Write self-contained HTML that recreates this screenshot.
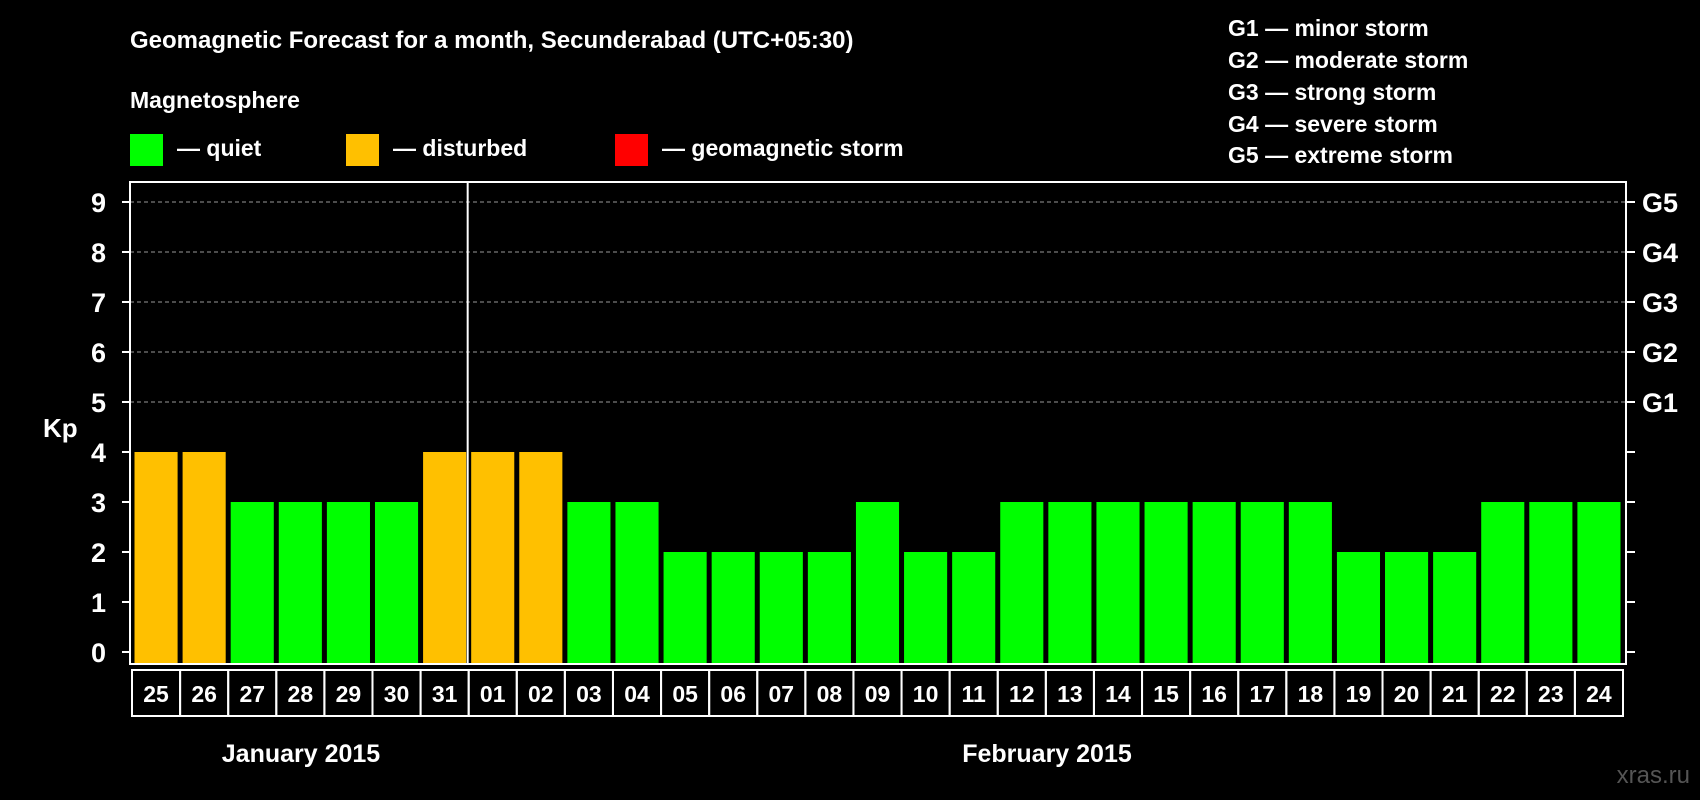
<!DOCTYPE html>
<html><head><meta charset="utf-8"><style>
html,body{margin:0;padding:0;background:#000;}
svg{display:block;font-family:"Liberation Sans",Arial,sans-serif;font-weight:bold;}
</style></head><body>
<svg id="c" width="1700" height="800" viewBox="0 0 1700 800">
<rect width="1700" height="800" fill="#000"/>
<text x="130" y="48" fill="#fff" font-size="24">Geomagnetic Forecast for a month, Secunderabad (UTC+05:30)</text>
<text x="130" y="108" fill="#fff" font-size="23">Magnetosphere</text>
<g><rect x="130" y="134" width="33" height="32" fill="#00ff00"/><text x="177" y="156" fill="#fff" font-size="23">— quiet</text></g>
<g><rect x="346" y="134" width="33" height="32" fill="#ffc000"/><text x="393" y="156" fill="#fff" font-size="23">— disturbed</text></g>
<g><rect x="615" y="134" width="33" height="32" fill="#ff0000"/><text x="662" y="156" fill="#fff" font-size="23">— geomagnetic storm</text></g>
<g fill="#fff" font-size="23">
<text x="1228" y="36">G1 — minor storm</text>
<text x="1228" y="68">G2 — moderate storm</text>
<text x="1228" y="100">G3 — strong storm</text>
<text x="1228" y="132">G4 — severe storm</text>
<text x="1228" y="163">G5 — extreme storm</text>
</g>
<text x="43" y="437" fill="#fff" font-size="26">Kp</text>
<text x="301" y="762" fill="#fff" font-size="25" text-anchor="middle">January 2015</text>
<text x="1047" y="762" fill="#fff" font-size="25" text-anchor="middle">February 2015</text>
<text x="1690" y="783" fill="#555" font-size="24" text-anchor="end" font-weight="normal">xras.ru</text>
<g id="plot"></g>
</svg>
<script>
const days=["25","26","27","28","29","30","31","01","02","03","04","05","06","07","08","09","10","11","12","13","14","15","16","17","18","19","20","21","22","23","24"];
const kpValues=[4,4,3,3,3,3,4,4,4,3,3,2,2,2,2,3,2,2,3,3,3,3,3,3,3,2,2,2,3,3,3];
const yTicks=[0,1,2,3,4,5,6,7,8,9];
const gLabels=["G1","G2","G3","G4","G5"];
const gLevels=[5,6,7,8,9];
const monthBreakIndex=7;
const NS="http://www.w3.org/2000/svg";
const L=130,R=1626,T=182,B=664,x0=132,x1=1623;
const slot=(x1-x0)/days.length;
const y=v=>652-v*50;
const xs=i=>x0+i*slot;
const g=document.getElementById('plot');
function mk(t,a){const e=document.createElementNS(NS,t);for(const k in a)e.setAttribute(k,a[k]);g.appendChild(e);return e;}
yTicks.forEach(v=>{
  if(v>=5){const l=mk('line',{x1:L,x2:R,y1:y(v),y2:y(v),stroke:'#999','stroke-width':1,'stroke-dasharray':'4,3'});
  
  }
  mk('line',{x1:L-8,x2:L,y1:y(v),y2:y(v),stroke:'#fff','stroke-width':2});
  mk('line',{x1:R,x2:R+9,y1:y(v),y2:y(v),stroke:'#fff','stroke-width':2});
  const t=mk('text',{x:106,y:y(v)+10,fill:'#fff','font-size':27,'text-anchor':'end'});t.textContent=v;
  
  
});
gLabels.forEach((s,i)=>{const t=mk('text',{x:1642,y:y(gLevels[i])+10,fill:'#fff','font-size':27});t.textContent=s;
  
  });
kpValues.forEach((v,i)=>{
  const r=mk('rect',{x:xs(i)+2.5,y:y(v),width:slot-5,height:y(0)-y(v)+11,fill:v>=5?'#ff0000':(v>=4?'#ffc000':'#00ff00')});
  
  
  const c=mk('rect',{x:xs(i),y:670,width:slot,height:46,fill:'none',stroke:'#fff','stroke-width':2});
  
  
  const t=mk('text',{x:xs(i)+slot/2,y:702,fill:'#fff','font-size':23,'text-anchor':'middle'});t.textContent=days[i];
  
  
});
const box=mk('rect',{x:L,y:T,width:R-L,height:B-T,fill:'none',stroke:'#fff','stroke-width':2});


const dv=mk('line',{x1:xs(monthBreakIndex)-1,x2:xs(monthBreakIndex)-1,y1:T,y2:B,stroke:'#fff','stroke-width':2});


</script>
</body></html>
